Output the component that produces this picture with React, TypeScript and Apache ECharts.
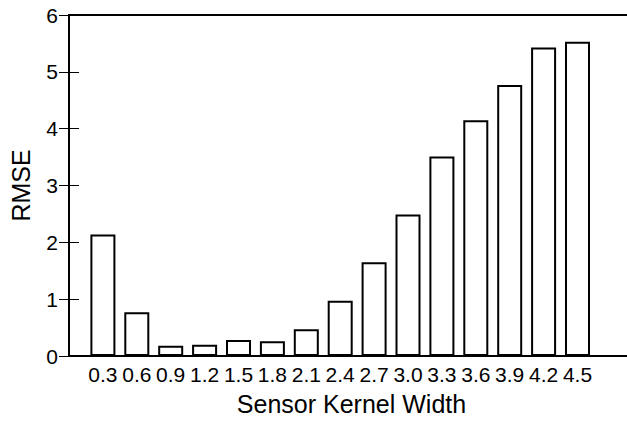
import React, { useEffect, useRef } from "react";
import * as echarts from "echarts";

const kernelWidths = [0.3, 0.6, 0.9, 1.2, 1.5, 1.8, 2.1, 2.4, 2.7, 3.0, 3.3, 3.6, 3.9, 4.2, 4.5];
const rmse = [2.14, 0.77, 0.18, 0.2, 0.28, 0.26, 0.47, 0.97, 1.65, 2.49, 3.51, 4.15, 4.77, 5.43, 5.53];
const yTicks = [0, 1, 2, 3, 4, 5, 6];

const FONT = "'Liberation Sans', Arial, Helvetica, sans-serif";

export default function App() {
  const ref = useRef<HTMLDivElement>(null);
  useEffect(() => {
    if (!ref.current) return;
    const chart = echarts.init(ref.current, null, { renderer: "svg" });
    chart.setOption({
      animation: false,
      backgroundColor: "#fff",
      textStyle: { fontFamily: FONT, color: "#000" },
      grid: {
        left: 69,
        top: 15,
        right: -7,
        bottom: 65,
        containLabel: false,
        outerBoundsMode: "none",
      },
      xAxis: [
        {
          type: "value",
          min: 0,
          max: 5,
          position: "bottom",
          name: "Sensor Kernel Width",
          nameLocation: "middle",
          nameGap: 35,
          nameTextStyle: { fontSize: 25, color: "#000", fontFamily: FONT },
          axisLine: { show: true, onZero: false, lineStyle: { color: "#000", width: 2 } },
          axisTick: { show: false },
          splitLine: { show: false },
          axisLabel: {
            customValues: kernelWidths,
            fontSize: 21,
            color: "#000",
            fontFamily: FONT,
            margin: 8,
            formatter: (v: number) => v.toFixed(1),
          },
        },
        {
          type: "value",
          min: 0,
          max: 5,
          position: "top",
          axisLine: { show: true, onZero: false, lineStyle: { color: "#000", width: 2 } },
          axisTick: { show: false },
          axisLabel: { show: false },
          splitLine: { show: false },
        },
      ],
      yAxis: [
        {
          type: "value",
          min: 0,
          max: 6,
          interval: 1,
          position: "left",
          name: "RMSE",
          nameLocation: "middle",
          nameGap: 36,
          nameRotate: 90,
          nameTextStyle: { fontSize: 25, color: "#000", fontFamily: FONT },
          axisLine: { show: true, onZero: false, lineStyle: { color: "#000", width: 2 } },
          axisTick: { show: true, inside: true, length: 10, lineStyle: { color: "#000", width: 1 } },
          axisLabel: {
            fontSize: 21,
            color: "#000",
            fontFamily: FONT,
            margin: 11,
            customValues: yTicks,
          },
          splitLine: { show: false },
        },
        {
          type: "value",
          min: 0,
          max: 6,
          interval: 1,
          position: "right",
          axisLine: { show: false },
          axisTick: { show: true, inside: true, length: 10, lineStyle: { color: "#000", width: 1 } },
          axisLabel: { show: false },
          splitLine: { show: false },
        },
      ],
      series: [
        {
          type: "bar",
          xAxisIndex: 0,
          yAxisIndex: 0,
          barWidth: 25,
          data: kernelWidths.map((w, i) => [w, rmse[i]]),
          itemStyle: { color: "#fff", borderColor: "#000", borderWidth: 2 },
        },
      ],
    });
    return () => chart.dispose();
  }, []);
  return (
    <div
      ref={ref}
      style={{ position: "fixed", left: 0, top: 0, width: 627, height: 421, background: "#fff" }}
    />
  );
}
